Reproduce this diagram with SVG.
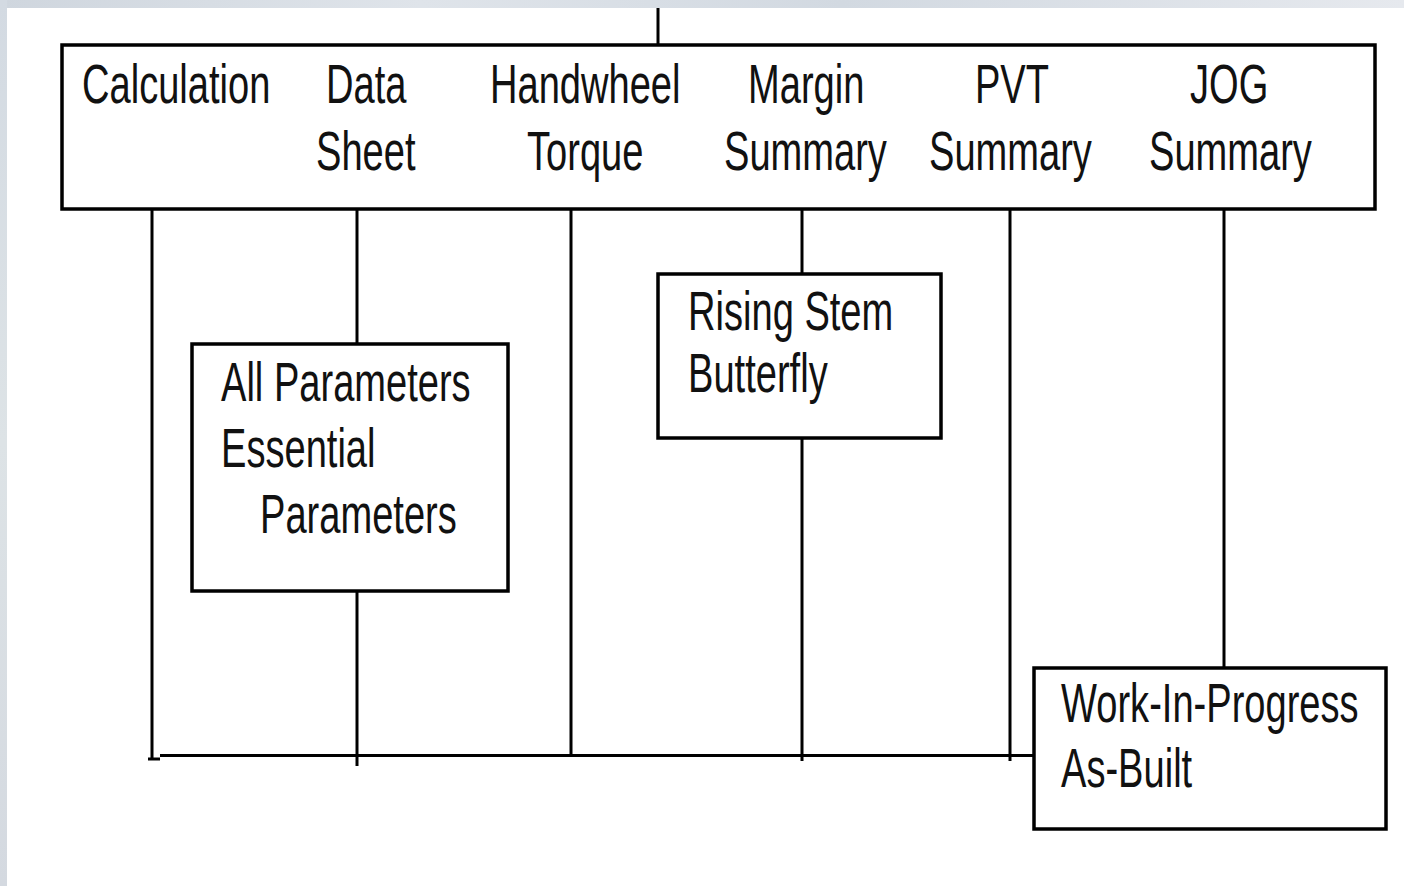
<svg xmlns="http://www.w3.org/2000/svg" width="1404" height="886" viewBox="0 0 1404 886">
<style>
.box{fill:#fff;stroke:#000;stroke-width:3.5}
.ln{stroke:#000;stroke-width:3;fill:none}
.t{font-family:"Liberation Sans",Arial,sans-serif;font-size:56px;fill:#111}
</style>
<defs>
<linearGradient id="strip" x1="0" y1="0" x2="1" y2="0">
<stop offset="0" stop-color="#cfd6de"/>
<stop offset="0.3" stop-color="#dfe4ea"/>
<stop offset="0.6" stop-color="#d2d9e1"/>
<stop offset="1" stop-color="#e6e9ee"/>
</linearGradient>
<linearGradient id="stripv" x1="0" y1="0" x2="0" y2="1">
<stop offset="0" stop-color="#d3dae2"/>
<stop offset="0.5" stop-color="#dde3e6"/>
<stop offset="1" stop-color="#d4d9e0"/>
</linearGradient>
</defs>
<rect x="0" y="0" width="1404" height="886" fill="#fff"/>
<rect x="0" y="0" width="1404" height="8" fill="url(#strip)"/>
<rect x="0" y="0" width="7" height="886" fill="url(#stripv)"/>
<g id="connectors">
<line class="ln" x1="658" y1="8" x2="658" y2="45"/>
<line class="ln" x1="152" y1="209" x2="152" y2="760"/>
<line class="ln" x1="148" y1="759" x2="160" y2="759"/>
<line class="ln" x1="160" y1="755.5" x2="1034" y2="755.5"/>
<line class="ln" x1="357" y1="209" x2="357" y2="344"/>
<line class="ln" x1="357" y1="591" x2="357" y2="766"/>
<line class="ln" x1="571" y1="209" x2="571" y2="755"/>
<line class="ln" x1="802" y1="209" x2="802" y2="273"/>
<line class="ln" x1="802" y1="438" x2="802" y2="761"/>
<line class="ln" x1="1010" y1="209" x2="1010" y2="761"/>
<line class="ln" x1="1224" y1="209" x2="1224" y2="668"/>
</g>
<g id="top">
<rect class="box" x="62" y="45" width="1313" height="164"/>
<g transform="scale(0.68 1)">
<text class="t" x="120.6" y="103">Calculation</text>
<text class="t" x="479.4" y="103">Data</text>
<text class="t" x="464.7" y="170">Sheet</text>
<text class="t" x="720.6" y="103">Handwheel</text>
<text class="t" x="775" y="170">Torque</text>
<text class="t" x="1100" y="103">Margin</text>
<text class="t" x="1064.7" y="170">Summary</text>
<text class="t" x="1433.8" y="103">PVT</text>
<text class="t" x="1366.2" y="170">Summary</text>
<text class="t" x="1750" y="103">JOG</text>
<text class="t" x="1689.7" y="170">Summary</text>
</g>
</g>
<g id="params">
<rect class="box" x="192" y="344" width="316" height="247"/>
<g transform="scale(0.68 1)">
<text class="t" x="325" y="401">All Parameters</text>
<text class="t" x="325" y="467">Essential</text>
<text class="t" x="382.4" y="533">Parameters</text>
</g>
</g>
<g id="valve">
<rect class="box" x="658" y="274" width="283" height="164"/>
<g transform="scale(0.68 1)">
<text class="t" x="1011.8" y="330">Rising Stem</text>
<text class="t" x="1011.8" y="392">Butterfly</text>
</g>
</g>
<g id="wip">
<rect class="box" x="1034" y="668" width="352" height="161"/>
<g transform="scale(0.68 1)">
<text class="t" x="1560.3" y="722">Work-In-Progress</text>
<text class="t" x="1560.3" y="787">As-Built</text>
</g>
</g>
</svg>
